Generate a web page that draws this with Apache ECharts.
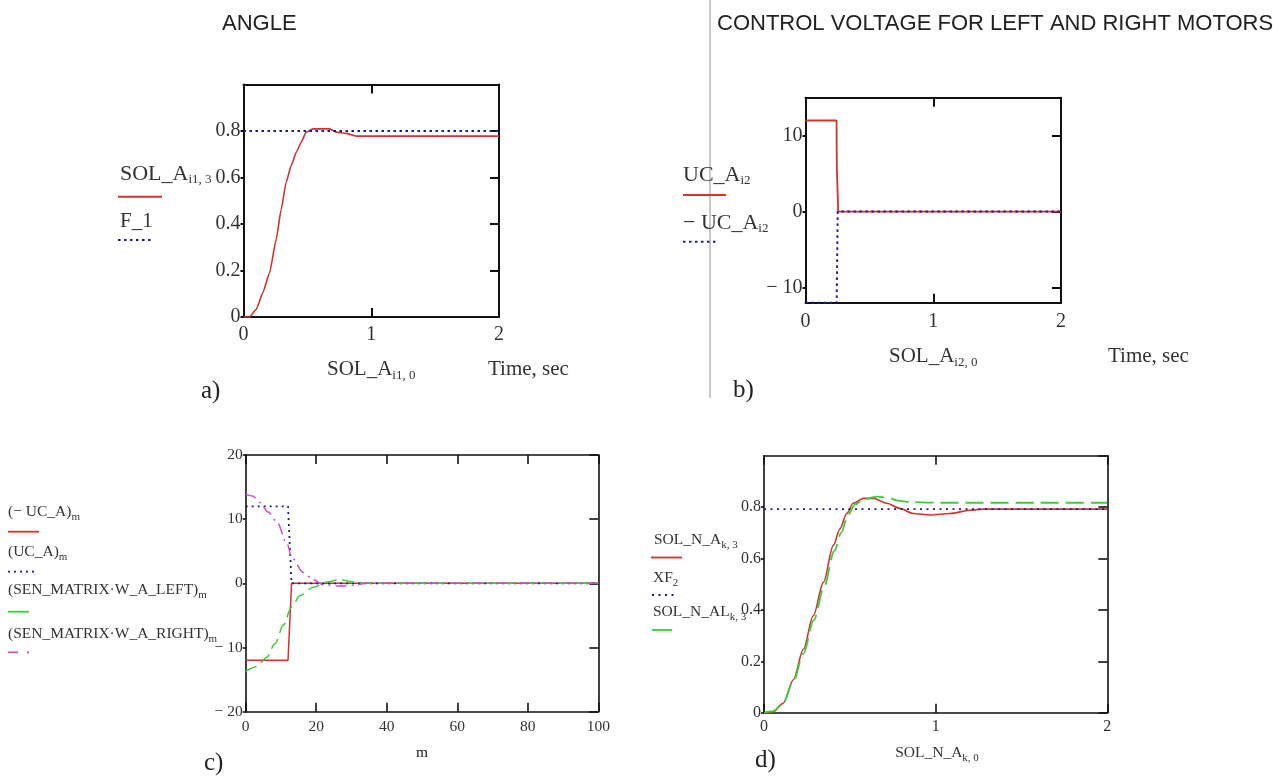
<!DOCTYPE html>
<html>
<head>
<meta charset="utf-8">
<script src="https://cdn.jsdelivr.net/npm/echarts@6.0.0/dist/echarts.min.js"></script>
<style>
html,body{margin:0;padding:0;background:#fff;}
#chart{width:1288px;height:778px;}
</style>
</head>
<body>
<div id="chart"></div>
<script>
// ---------- DATA ----------
// a) ANGLE
const a_time  = [0, 0.047, 0.099, 0.151, 0.204, 0.256, 0.295, 0.334, 0.373, 0.413, 0.452, 0.491, 0.543, 0.674, 0.726, 0.804, 0.883, 2];
const a_angle = [0, 0, 0.032, 0.104, 0.19, 0.334, 0.463, 0.579, 0.651, 0.708, 0.752, 0.795, 0.809, 0.809, 0.795, 0.79, 0.778, 0.778];
const a_f1_time = [0, 2];
const a_f1      = [0.8, 0.8];

// b) control voltage
const b_time    = [0, 0.243, 0.245, 0.256, 2];
const b_uc      = [12, 12, 6, 0, 0];
const b_neg_time = [0, 0.244, 0.252, 2];
const b_neg_uc   = [-12, -12, 0, 0];

// c) sampled control vs sensor matrix
const c_m_step = [0, 12, 13, 100];
const c_neg_uc = [-12, -12, 0, 0];
const c_uc     = [12, 12, 0, 0];
const c_m_left = [0, 3.1, 6.0, 8.3, 10.7, 13, 15.4, 19.2, 23, 26.8, 30.5, 33.4, 100];
const c_left   = [-13.7, -13.0, -11.5, -9.4, -6.5, -3.7, -1.9, -0.6, 0.2, 0.6, 0.2, 0, 0];
const c_m_right = [0, 2, 4, 6.4, 8.9, 11.7, 13.1, 16.3, 19, 22, 27, 31, 34, 100];
const c_right   = [13.9, 13.6, 12.6, 11.1, 9.5, 6.2, 4.0, 1.7, 0.6, -0.2, -0.4, -0.3, 0, 0];

// d) angle comparison
const d_time = [0, 0.054, 0.112, 0.171, 0.229, 0.287, 0.346, 0.404, 0.443, 0.482, 0.52, 0.579, 0.637, 0.715, 0.792, 0.87, 0.967, 1.084, 1.2, 1.277, 2];
const d_red  = [0, 0.004, 0.037, 0.128, 0.246, 0.377, 0.507, 0.651, 0.716, 0.775, 0.815, 0.834, 0.834, 0.815, 0.795, 0.775, 0.769, 0.775, 0.788, 0.792, 0.792];
const d_xf_time = [0, 2];
const d_xf      = [0.792, 0.792];
const d_time_g = [0, 0.05, 0.11, 0.17, 0.23, 0.29, 0.35, 0.41, 0.45, 0.49, 0.53, 0.58, 0.66, 0.72, 0.78, 0.85, 1.0, 2.0];
const d_green  = [0, 0.005, 0.035, 0.12, 0.23, 0.36, 0.49, 0.63, 0.70, 0.77, 0.81, 0.83, 0.841, 0.837, 0.825, 0.82, 0.817, 0.817];

// tick values
const b_y_ticks = [-10, 0, 10];

// ---------- STYLE ----------
const SERIF = "'Liberation Serif','Times New Roman',serif";
const SANS = "'Liberation Sans',Arial,sans-serif";
const RED = '#d0342c', BLUE = '#1c1c8c', GREEN = '#3ccc3c', MAG = '#c94fc9';
const AX = '#111', TXT = '#333';

function zip(xs, ys){ return xs.map((x,i)=>[x, ys[i]]); }
function negFmt(v){ return v < 0 ? '\u2212 ' + Math.abs(v) : String(v); }

const grids = [
  {left:243.5, top:84.5, width:255.5, height:232.5},
  {left:805.5, top:97.7, width:255.5, height:205},
  {left:245.7, top:455, width:352.6, height:256.7},
  {left:764, top:455.7, width:343.3, height:257}
];

const axSpec = [
  {x:{min:0,max:2,interval:1}, y:{min:0,max:1,interval:0.2,showMax:false}, fs:20, lw:2, xm:8, ym:3},
  {x:{min:0,max:2,interval:1}, y:{min:-12,max:15,custom:b_y_ticks}, fs:20, lw:2, xm:9, ym:3},
  {x:{min:0,max:100,interval:20}, y:{min:-20,max:20,interval:10}, fs:15.5, lw:1.6, xm:7, ym:3},
  {x:{min:0,max:2,interval:1}, y:{min:0,max:1,interval:0.2,showMax:false}, fs:16, lw:1.6, xm:6, ym:3}
];

const xAxis = [], yAxis = [];
axSpec.forEach((s, i) => {
  const lineStyle = {color:AX, width:s.lw};
  const base = {type:'value', gridIndex:i, splitLine:{show:false}, min:s.x.min, max:s.x.max, interval:s.x.interval};
  xAxis.push(Object.assign({}, base, {
    position:'bottom',
    axisLine:{show:true, onZero:false, lineStyle},
    axisTick:{show:true, inside:true, length:9, lineStyle},
    axisLabel:{show:true, color:TXT, fontFamily:SERIF, fontSize:s.fs, margin:s.xm, formatter:negFmt}
  }));
  xAxis.push(Object.assign({}, base, {
    position:'top',
    axisLine:{show:true, onZero:false, lineStyle},
    axisTick:{show:true, inside:true, length:9, lineStyle},
    axisLabel:{show:false}
  }));
  const ybase = {type:'value', gridIndex:i, splitLine:{show:false}, min:s.y.min, max:s.y.max};
  if (s.y.interval) ybase.interval = s.y.interval;
  const lt = {show:true, inside:false, length:3, lineStyle};
  const rt = {show:true, inside:true, length:9, lineStyle};
  const ll = {show:true, color:TXT, fontFamily:SERIF, fontSize:s.fs, margin:s.ym, formatter:negFmt};
  if (s.y.showMax === false) ll.showMaxLabel = false;
  if (s.y.custom) { lt.customValues = s.y.custom; rt.customValues = s.y.custom; ll.customValues = s.y.custom; }
  yAxis.push(Object.assign({}, ybase, {
    position:'left', axisLine:{show:true, onZero:false, lineStyle}, axisTick:lt, axisLabel:ll
  }));
  yAxis.push(Object.assign({}, ybase, {
    position:'right', axisLine:{show:true, onZero:false, lineStyle}, axisTick:rt, axisLabel:{show:false}
  }));
});

function ser(gi, data, color, width, dash, smooth){
  return {
    type:'line', xAxisIndex:gi*2, yAxisIndex:gi*2, data, showSymbol:false, symbol:'none',
    clip:false, smooth: smooth || false, smoothMonotone:'x',
    lineStyle:{color, width, type: dash || 'solid'}, silent:true
  };
}

const series = [
  ser(0, zip(a_time, a_angle), RED, 1.6, 'solid', 0.15),
  ser(0, zip(a_f1_time, a_f1), BLUE, 2, [2.5, 3.5]),
  ser(1, zip(b_time, b_uc), RED, 1.8),
  ser(1, zip(b_neg_time, b_neg_uc), BLUE, 2, [2.5, 3.5]),
  ser(2, zip(c_m_step, c_neg_uc), RED, 1.5),
  ser(2, zip(c_m_step, c_uc), BLUE, 1.8, [2, 4]),
  ser(2, zip(c_m_left, c_left), GREEN, 1.5, [12, 6], 0.3),
  ser(2, zip(c_m_right, c_right), MAG, 1.5, [11, 5, 2, 5], 0.3),
  ser(3, zip(d_time, d_red), RED, 1.6, 'solid', 0.3),
  ser(3, zip(d_xf_time, d_xf), BLUE, 1.8, [2, 4.5]),
  ser(3, zip(d_time_g, d_green), GREEN, 1.8, [18, 7], 0.3)
];

// ---------- TEXT / DECORATION ----------
function richText(x, y, main, sub, fs, sfs, pad, align){
  return {type:'text', x, y, silent:true, style:{
    text: sub ? '{m|' + main + '}{s|' + sub + '}' : '{m|' + main + '}',
    align: align || 'left', verticalAlign:'top', fill:TXT,
    rich:{
      m:{fontFamily:SERIF, fontSize:fs, lineHeight:fs, verticalAlign:'top', fill:TXT},
      s:{fontFamily:SERIF, fontSize:sfs, lineHeight:sfs, padding:[pad,0,0,0], verticalAlign:'top', fill:TXT}
    }
  }};
}
function plain(x, y, text, font, fs, align){
  return {type:'text', x, y, silent:true, style:{text, fontFamily:font, fontSize:fs, fill:'#222', align: align||'left', verticalAlign:'middle'}};
}
function key(x1, x2, y, color, width, dash){
  return {type:'line', silent:true, shape:{x1, y1:y, x2, y2:y}, style:{stroke:color, lineWidth:width, lineDash: dash || null}};
}

const graphic = [
  // titles
  plain(222, 24, 'ANGLE', SANS, 22),
  plain(717, 24, 'CONTROL VOLTAGE FOR LEFT AND RIGHT MOTORS', SANS, 22),
  {type:'line', silent:true, shape:{x1:710, y1:0, x2:710, y2:398}, style:{stroke:'#c8c8c8', lineWidth:2}},
  // a) legend
  richText(120, 163, 'SOL_A', 'i1, 3', 22, 13, 10),
  key(118, 162, 196.7, RED, 2),
  richText(120, 211, 'F_1', null, 21, 13, 10),
  key(118, 154, 240, BLUE, 2, [2.5, 3.5]),
  richText(327, 359, 'SOL_A', 'i1, 0', 21, 13, 10),
  richText(488, 359, 'Time, sec', null, 21, 13, 10),
  plain(201, 391, 'a)', SERIF, 25),
  // b) legend
  richText(683, 164, 'UC_A', 'i2', 22, 13, 10),
  key(683, 726, 195, RED, 2),
  richText(683, 212, '\u2212 UC_A', 'i2', 22, 13, 10),
  key(683, 717, 241.7, BLUE, 2, [2.5, 3.5]),
  richText(889, 346, 'SOL_A', 'i2, 0', 21, 13, 10),
  richText(1108, 346, 'Time, sec', null, 21, 13, 10),
  plain(733, 390, 'b)', SERIF, 25),
  // c) legend
  richText(8, 504, '(\u2212 UC_A)', 'm', 15.5, 11, 8),
  key(8, 39, 531.7, RED, 1.8),
  richText(8, 544, '(UC_A)', 'm', 15.5, 11, 8),
  key(8, 34, 571.7, BLUE, 1.8, [2, 4]),
  richText(8, 582, '(SEN_MATRIX\u00b7W_A_LEFT)', 'm', 15.5, 11, 8),
  key(8, 29, 611.7, GREEN, 1.8),
  richText(8, 625.5, '(SEN_MATRIX\u00b7W_A_RIGHT)', 'm', 15.5, 11, 8),
  key(8, 30, 652.3, MAG, 1.8, [10, 9, 2, 9]),
  plain(422, 753, 'm', SERIF, 15.5, 'center'),
  plain(204, 763, 'c)', SERIF, 25),
  // d) legend
  richText(654, 532, 'SOL_N_A', 'k, 3', 15.5, 11, 8),
  key(651, 682, 557.5, RED, 1.8),
  richText(653, 570, 'XF', '2', 15.5, 11, 8),
  key(652, 678, 595, BLUE, 1.8, [2, 4.5]),
  richText(653, 604, 'SOL_N_AL', 'k, 3', 15.5, 11, 8),
  key(652, 672, 630, GREEN, 1.8),
  richText(937, 745, 'SOL_N_A', 'k, 0', 15.5, 11, 8, 'center'),
  plain(755, 760, 'd)', SERIF, 25)
];

const chart = echarts.init(document.getElementById('chart'), null, {renderer:'canvas'});
chart.setOption({
  backgroundColor:'#ffffff',
  animation:false,
  grid: grids,
  xAxis, yAxis, series, graphic
});
</script>
</body>
</html>
